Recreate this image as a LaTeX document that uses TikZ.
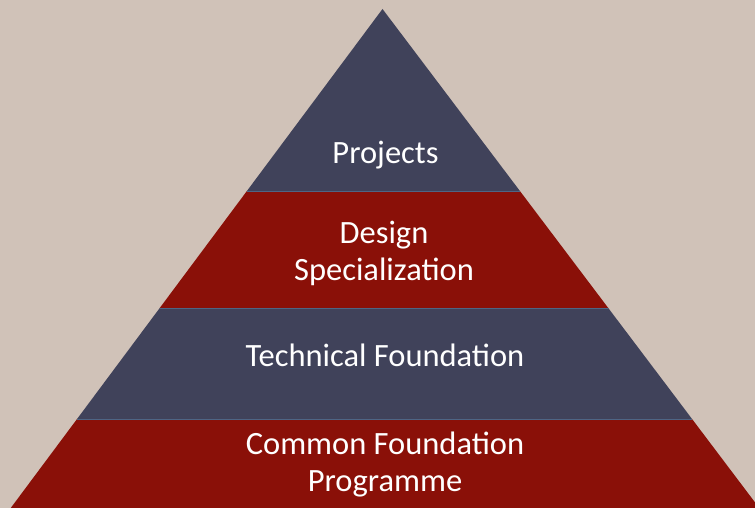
\documentclass[tikz,border=0pt]{standalone}
\usepackage{fontspec}
\setmainfont{Carlito}
\definecolor{bg}{HTML}{D0C2B8}
\definecolor{navy}{HTML}{40425A}
\definecolor{brick}{HTML}{8A1008}
\definecolor{sep}{HTML}{4E6585}
\begin{document}
\begin{tikzpicture}[x=1pt,y=-1pt,
  lbl/.style={text=white,font=\fontsize{32.5}{37}\selectfont,align=center,inner sep=0pt},
  sepline/.style={sep,line width=0.9pt}]
\fill[bg] (0,0) rectangle (755,508);
\useasboundingbox (0,0) rectangle (755,508);
\coordinate (A) at (382.5,9);
\coordinate (L1) at ({382.5-0.745*182},191);
\coordinate (R1) at ({382.5+0.755*182},191);
\coordinate (L2) at ({382.5-0.745*299},308);
\coordinate (R2) at ({382.5+0.755*299},308);
\coordinate (L3) at ({382.5-0.745*410},419);
\coordinate (R3) at ({382.5+0.755*410},419);
\coordinate (L4) at ({382.5-0.745*499},508);
\coordinate (R4) at ({382.5+0.755*499},508);
% bands
\fill[navy] (A) -- (L1) -- (R1) -- cycle;
\fill[brick] (L1) -- (L2) -- (R2) -- (R1) -- cycle;
\fill[navy] (L2) -- (L3) -- (R3) -- (R2) -- cycle;
\fill[brick] (L3) -- (L4) -- (R4) -- (R3) -- cycle;
\draw[sepline] (L1) -- (R1);
\draw[sepline] (L2) -- (R2);
\draw[sepline] (L3) -- (R3);
% labels
\node[lbl] (p) at (385.5,155) {Projects};
\node[lbl] (d) at (384,253.5) {Design\\Specialization};
\node[lbl] (t) at (385,355) {Technical Foundation};
\node[lbl] (c) at (385,465) {Common Foundation\\Programme};
\end{tikzpicture}
\end{document}
